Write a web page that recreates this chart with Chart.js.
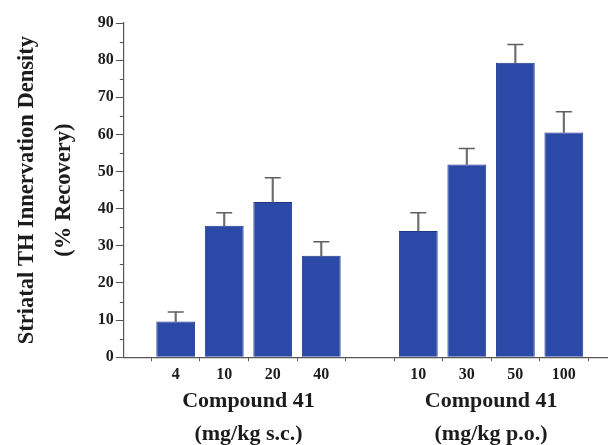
<!DOCTYPE html>
<html>
<head>
<meta charset="utf-8">
<script src="https://cdn.jsdelivr.net/npm/chart.js@4"></script>
<style>
html, body { margin: 0; padding: 0; background: #fff; overflow: hidden; }
#wrap { width: 608px; height: 445px; }
</style>
</head>
<body>
<div id="wrap"><canvas id="myChart"></canvas></div>
<script>
// dose labels and their slot on the x axis (slot 4 is the gap between groups)
var doses = ['4', '10', '20', '40', '10', '30', '50', '100'];
var slots = [0, 1, 2, 3, 5, 6, 7, 8];
var recovery = [9.6, 35.4, 41.8, 27.3, 34.0, 51.9, 79.3, 60.5];
var errorUp = [2.6, 3.5, 6.5, 3.8, 4.9, 4.3, 4.9, 5.6];
var groupLabels = [['Compound 41', '(mg/kg s.c.)'], ['Compound 41', '(mg/kg p.o.)']];
var groupCenters = [1.5, 6.5];
var slotEdges = [-0.5, 0.5, 1.5, 2.5, 3.5, 4.5, 5.5, 6.5, 7.5, 8.5];
var yTitle = ['Striatal TH Innervation Density', '(% Recovery)'];

var serif = "'Liberation Serif', 'Times New Roman', serif";
var ink = '#1c1c1c';
var xMin = -1.07, xMax = 8.91;

var bars = slots.map(function (s, i) { return {x: s, y: recovery[i]}; });
var stems = slots.map(function (s, i) { return {x: s, y: [recovery[i], recovery[i] + errorUp[i]]}; });
var caps = slots.map(function (s, i) { return {x: s, y: recovery[i] + errorUp[i]}; });

// short minor ticks at every 5 on the y axis
var minorTicks = {
    id: 'minorTicks',
    afterDraw: function (chart) {
        var y = chart.scales.y, c = chart.ctx, left = chart.chartArea.left;
        c.save();
        c.strokeStyle = '#555';
        c.lineWidth = 1;
        for (var v = 5; v < 90; v += 10) {
            var py = Math.round(y.getPixelForValue(v)) + 0.5;
            c.beginPath();
            c.moveTo(left - 4, py);
            c.lineTo(left, py);
            c.stroke();
        }
        c.restore();
    }
};

var ctx = document.getElementById('myChart').getContext('2d');
var myChart = new Chart(ctx, {
    type: 'bar',
    data: {
        datasets: [{
            data: bars,
            backgroundColor: '#2b4aa8',
            borderColor: '#1f3685',
            borderWidth: 1,
            barPercentage: 0.8,
            categoryPercentage: 1,
            order: 2
        }, {
            data: stems,
            backgroundColor: '#6e6e6e',
            barThickness: 1.5,
            grouped: false,
            order: 1
        }, {
            type: 'scatter',
            data: caps,
            pointStyle: 'line',
            pointRadius: 8,
            borderColor: '#5e5e5e',
            borderWidth: 1.5,
            order: 0
        }]
    },
    options: {
        responsive: true,
        maintainAspectRatio: false,
        animation: false,
        layout: { autoPadding: false, padding: { left: 9, top: 23, right: 0, bottom: -1 } },
        plugins: { legend: { display: false }, tooltip: { enabled: false } },
        scales: {
            x: {
                type: 'linear', min: xMin, max: xMax, weight: 0, offset: false,
                afterBuildTicks: function (s) { s.ticks = slotEdges.map(function (v) { return {value: v}; }); },
                ticks: { display: false },
                grid: { drawOnChartArea: false, tickLength: 4, color: '#555', offset: false },
                border: { color: '#555', width: 1.2 }
            },
            xl: {
                type: 'linear', position: 'bottom', min: xMin, max: xMax, weight: 1, offset: false,
                afterBuildTicks: function (s) { s.ticks = slots.map(function (v) { return {value: v}; }); },
                ticks: {
                    autoSkip: false, maxRotation: 0, padding: 3.5, color: ink,
                    font: { family: serif, size: 16, weight: 'bold', lineHeight: 1.3 },
                    callback: function (v) { return doses[slots.indexOf(v)]; }
                },
                grid: { display: false, drawTicks: false },
                border: { display: false }
            },
            xg: {
                type: 'linear', position: 'bottom', min: xMin, max: xMax, weight: 2, offset: false,
                afterBuildTicks: function (s) { s.ticks = groupCenters.map(function (v) { return {value: v}; }); },
                ticks: {
                    autoSkip: false, maxRotation: 0, padding: -4.5, color: ink,
                    font: { family: serif, size: 22, weight: 'bold', lineHeight: 1.5 },
                    callback: function (v) { return groupLabels[groupCenters.indexOf(v)]; }
                },
                grid: { display: false, drawTicks: false },
                border: { display: false }
            },
            y: {
                min: 0, max: 90,
                ticks: {
                    stepSize: 10, padding: 2, color: ink,
                    font: { family: serif, size: 16, weight: 'bold' }
                },
                grid: { drawOnChartArea: false, tickLength: 8, color: '#555' },
                border: { color: '#555', width: 1.2 },
                title: {
                    display: true, text: yTitle, color: ink,
                    font: { family: serif, size: 22.5, weight: 'bold', lineHeight: 1.64 },
                    padding: { top: 0, bottom: 13 }
                }
            }
        }
    },
    plugins: [minorTicks]
});
</script>
</body>
</html>
